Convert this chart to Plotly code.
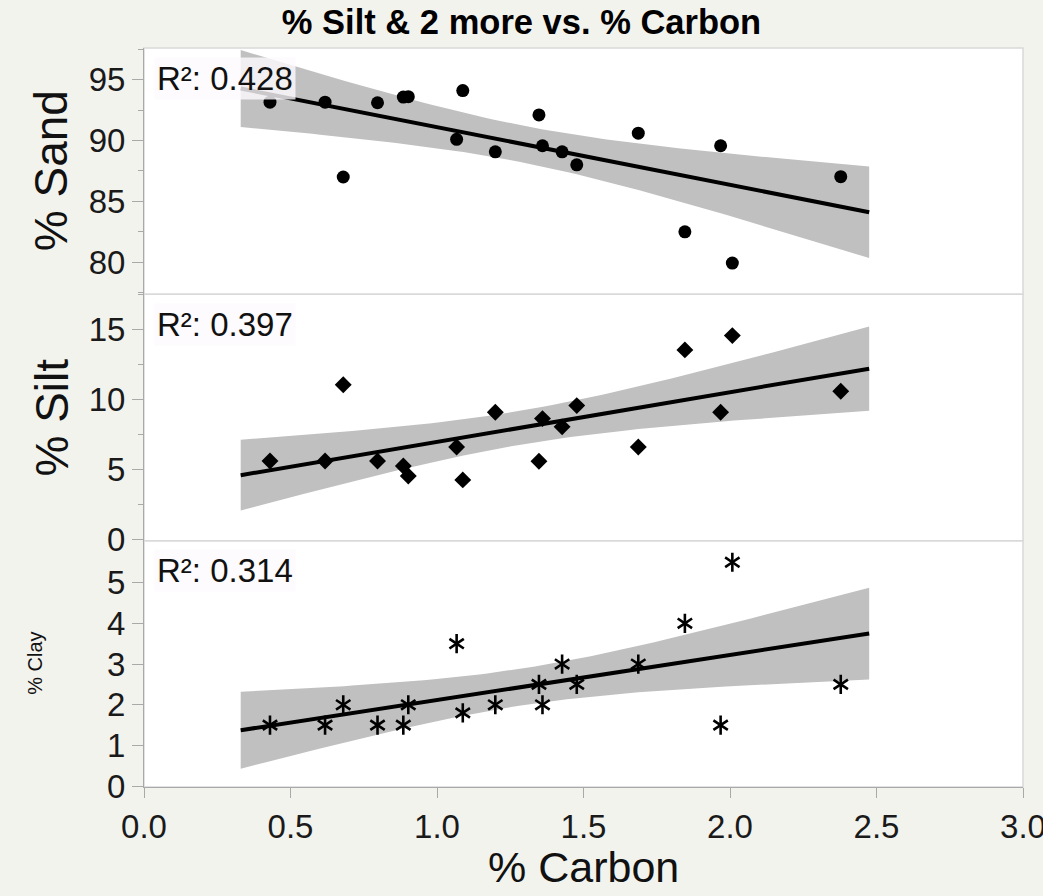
import numpy as np
import plotly.graph_objects as go
from plotly.subplots import make_subplots

# ---- data ----
carbon = [0.43, 0.618, 0.68, 0.797, 0.885, 0.902, 1.067, 1.088, 1.199,
          1.348, 1.36, 1.427, 1.477, 1.687, 1.846, 1.968, 2.008, 2.378]
sand = [93.15, 93.15, 87.0, 93.1, 93.57, 93.6, 90.1, 94.1, 89.07,
        92.1, 89.57, 89.07, 88.0, 90.6, 82.5, 89.57, 79.93, 87.03]
silt = [5.59, 5.59, 11.04, 5.59, 5.23, 4.52, 6.59, 4.24, 9.07,
        5.57, 8.62, 8.03, 9.55, 6.59, 13.53, 9.07, 14.55, 10.57]
clay = [1.5, 1.5, 2.0, 1.5, 1.5, 2.0, 3.5, 1.8, 2.0,
        2.5, 2.0, 3.0, 2.5, 3.0, 4.0, 1.5, 5.5, 2.5]
r2_labels = ["R²: 0.428", "R²: 0.397", "R²: 0.314"]
y_titles = ["% Sand", "% Silt", "% Clay"]
x_title = "% Carbon"
title = "% Silt & 2 more vs. % Carbon"
x_ticks = [0.0, 0.5, 1.0, 1.5, 2.0, 2.5, 3.0]
sand_ticks = [80, 85, 90, 95]
silt_ticks = [0, 5, 10, 15]
clay_ticks = [0, 1, 2, 3, 4, 5]

FIT_X0, FIT_X1 = 0.33, 2.475
T_CRIT = 2.1199  # t(0.975, df=16)

FONT = "Liberation Sans, Arial, Helvetica, sans-serif"
BG = "#F3F3EE"
AXC = "#A9A9A9"
FRAME = "#D9D9D9"


def fit_band(x, y):
    x = np.asarray(x, float)
    y = np.asarray(y, float)
    n = len(x)
    b, a = np.polyfit(x, y, 1)
    resid = y - (a + b * x)
    s = np.sqrt(np.sum(resid ** 2) / (n - 2))
    xb = x.mean()
    sxx = np.sum((x - xb) ** 2)
    xs = np.linspace(FIT_X0, FIT_X1, 80)
    yh = a + b * xs
    se = s * np.sqrt(1.0 / n + (xs - xb) ** 2 / sxx)
    return xs, yh, yh - T_CRIT * se, yh + T_CRIT * se


fig = make_subplots(rows=3, cols=1, shared_xaxes=True, vertical_spacing=0)

series = [sand, silt, clay]
for i, ys in enumerate(series):
    row = i + 1
    xs, yh, lo, hi = fit_band(carbon, ys)
    fig.add_trace(go.Scatter(x=np.concatenate([xs, xs[::-1]]),
                             y=np.concatenate([hi, lo[::-1]]),
                             fill="toself", fillcolor="#C0C0C0",
                             line=dict(width=0), mode="lines",
                             hoverinfo="skip", showlegend=False), row=row, col=1)
    fig.add_trace(go.Scatter(x=xs, y=yh, mode="lines",
                             line=dict(color="black", width=4),
                             showlegend=False), row=row, col=1)
    if i == 0:
        fig.add_trace(go.Scatter(x=carbon, y=ys, mode="markers",
                                 marker=dict(symbol="circle", size=13, color="black"),
                                 showlegend=False), row=row, col=1)
    elif i == 1:
        fig.add_trace(go.Scatter(x=carbon, y=ys, mode="markers",
                                 marker=dict(symbol="diamond", size=13, color="black"),
                                 showlegend=False), row=row, col=1)
    else:
        for sym in ["y-up-open", "y-down-open"]:
            fig.add_trace(go.Scatter(x=carbon, y=ys, mode="markers",
                                     marker=dict(symbol=sym, size=12, color="black",
                                                 line=dict(color="black", width=2.6)),
                                     showlegend=False), row=row, col=1)

H = 896
W = 1043
fig.update_layout(
    width=W, height=H,
    margin=dict(l=144, r=20, t=48, b=109, autoexpand=False),
    paper_bgcolor=BG, plot_bgcolor="white",
    font=dict(family=FONT, color="#1a1a1a"),
    title=dict(text=title, x=0.5, xref="container", xanchor="center",
               y=1 - 22 / H, yref="container", yanchor="middle",
               font=dict(size=34.5, family=FONT, weight=700, color="black")),
    showlegend=False,
)

tickfont = dict(size=33, family=FONT, color="#1a1a1a")
common_y = dict(showgrid=False, zeroline=False, showline=True, linecolor=AXC,
                linewidth=1, ticks="outside", ticklen=11, tickcolor=AXC,
                tickfont=tickfont, tickmode="array", automargin=False)
fig.update_yaxes(range=[77.36, 97.6], tickvals=sand_ticks,
                 minor=dict(ticks="outside", ticklen=5, dtick=2.5, tick0=0,
                            tickcolor=AXC, showgrid=False),
                 row=1, col=1, **common_y)
fig.update_yaxes(range=[-0.1, 17.5], tickvals=silt_ticks,
                 minor=dict(ticks="outside", ticklen=5, dtick=2.5, tick0=0,
                            tickcolor=AXC, showgrid=False),
                 row=2, col=1, **common_y)
fig.update_yaxes(range=[-0.02, 6.03], tickvals=clay_ticks, row=3, col=1, **common_y)

fig.update_xaxes(range=[0, 3], showgrid=False, zeroline=False, automargin=False)
fig.update_xaxes(row=3, col=1, tickmode="array", tickvals=x_ticks,
                 ticktext=[f"{v:.1f}" for v in x_ticks],
                 ticks="outside", ticklen=10, tickcolor=AXC,
                 showline=True, linecolor=AXC, tickfont=tickfont,
                 ticklabeloverflow="allow")

# panel frames
for i in range(3):
    yref = "y domain" if i == 0 else f"y{i+1} domain"
    xref = "x domain" if i == 0 else f"x{i+1} domain"
    fig.add_shape(type="rect", xref=xref, yref=yref, x0=0, x1=1, y0=0, y1=1,
                  line=dict(color=FRAME, width=1.5), layer="below")
    fig.add_annotation(text=r2_labels[i], xref=xref, yref=yref,
                       x=10 / 879, y=1 - 8.5 / 245, xanchor="left", yanchor="top",
                       showarrow=False, bgcolor="rgba(253,250,253,0.8)",
                       borderpad=2, font=dict(size=33, family=FONT, color="#111"))

# axis titles
title_specs = [(y_titles[0], 51, 46), (y_titles[1], 51, 46), (y_titles[2], 35, 20)]
for i, (txt, xc, fs) in enumerate(title_specs):
    yref = "y domain" if i == 0 else f"y{i+1} domain"
    fig.add_annotation(text=txt, xref="paper", yref=yref,
                       x=(xc - 144) / 879, y=0.5, xanchor="center", yanchor="middle",
                       textangle=-90, showarrow=False,
                       font=dict(size=fs, family=FONT, color="#111"))

fig.add_annotation(text=x_title, xref="paper", yref="paper",
                   x=0.5, y=-(867 - 787) / 739, xanchor="center", yanchor="middle",
                   showarrow=False, font=dict(size=43, family=FONT, color="#111"))

fig.write_html("out.html")
